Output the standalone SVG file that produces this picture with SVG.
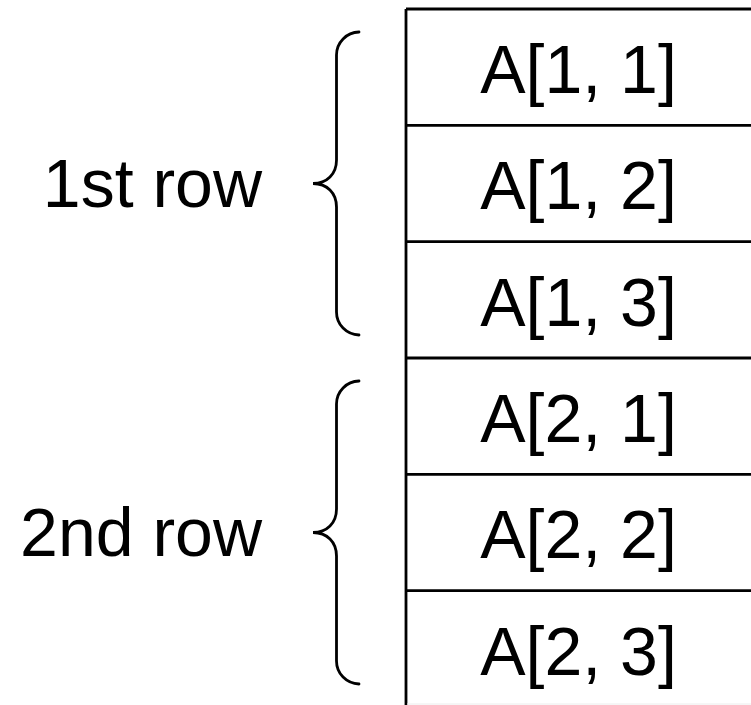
<svg xmlns="http://www.w3.org/2000/svg" width="751" height="705" viewBox="0 0 751 705">
  <style>
    .lbl { font-family: "Liberation Sans", Arial, sans-serif; font-size: 68px; fill: #000; }
    .cell-text { text-anchor: middle; }
    .row-text { text-anchor: end; }
    .edge { stroke: #000; stroke-width: 2.8; fill: none; }
    .brace { stroke: #000; stroke-width: 2.8; fill: none; stroke-linecap: round; }
  </style>
  <rect width="751" height="705" fill="#fff"/>

  <!-- memory column: left border, top border and row dividers -->
  <g id="column">
    <line class="edge" x1="406" y1="9" x2="406" y2="708"/>
    <line class="edge" x1="406" y1="9" x2="751" y2="9"/>
    <line class="edge" x1="406" y1="125.3" x2="751" y2="125.3"/>
    <line class="edge" x1="406" y1="241.7" x2="751" y2="241.7"/>
    <line class="edge" x1="406" y1="358" x2="751" y2="358"/>
    <line class="edge" x1="406" y1="474.3" x2="751" y2="474.3"/>
    <line class="edge" x1="406" y1="590.7" x2="751" y2="590.7"/>
    <line x1="407" y1="704" x2="751" y2="704" stroke="#ececec" stroke-width="1"/>
  </g>

  <g id="cell-1-1"><text class="lbl cell-text" x="578.5" y="93">A[1, 1]</text></g>
  <g id="cell-1-2"><text class="lbl cell-text" x="578.5" y="209.3">A[1, 2]</text></g>
  <g id="cell-1-3"><text class="lbl cell-text" x="578.5" y="325.7">A[1, 3]</text></g>
  <g id="cell-2-1"><text class="lbl cell-text" x="578.5" y="442">A[2, 1]</text></g>
  <g id="cell-2-2"><text class="lbl cell-text" x="578.5" y="558.3">A[2, 2]</text></g>
  <g id="cell-2-3"><text class="lbl cell-text" x="578.5" y="674.7">A[2, 3]</text></g>

  <!-- curly braces grouping each row -->
  <g id="braces">
    <path class="brace" d="M359,32 A23,23 0 0 0 336.5,55 L336.5,160 C336.5,174 327,183.5 313,183.5 C327,183.5 336.5,193 336.5,207 L336.5,312 A23,23 0 0 0 359,335"/>
    <path class="brace" d="M359,381 A23,23 0 0 0 336.5,404 L336.5,509 C336.5,523 327,532.5 313,532.5 C327,532.5 336.5,542 336.5,556 L336.5,661 A23,23 0 0 0 359,684"/>
  </g>

  <g id="label-row-1"><text class="lbl row-text" x="262" y="207">1st row</text></g>
  <g id="label-row-2"><text class="lbl row-text" x="262" y="556">2nd row</text></g>
</svg>
